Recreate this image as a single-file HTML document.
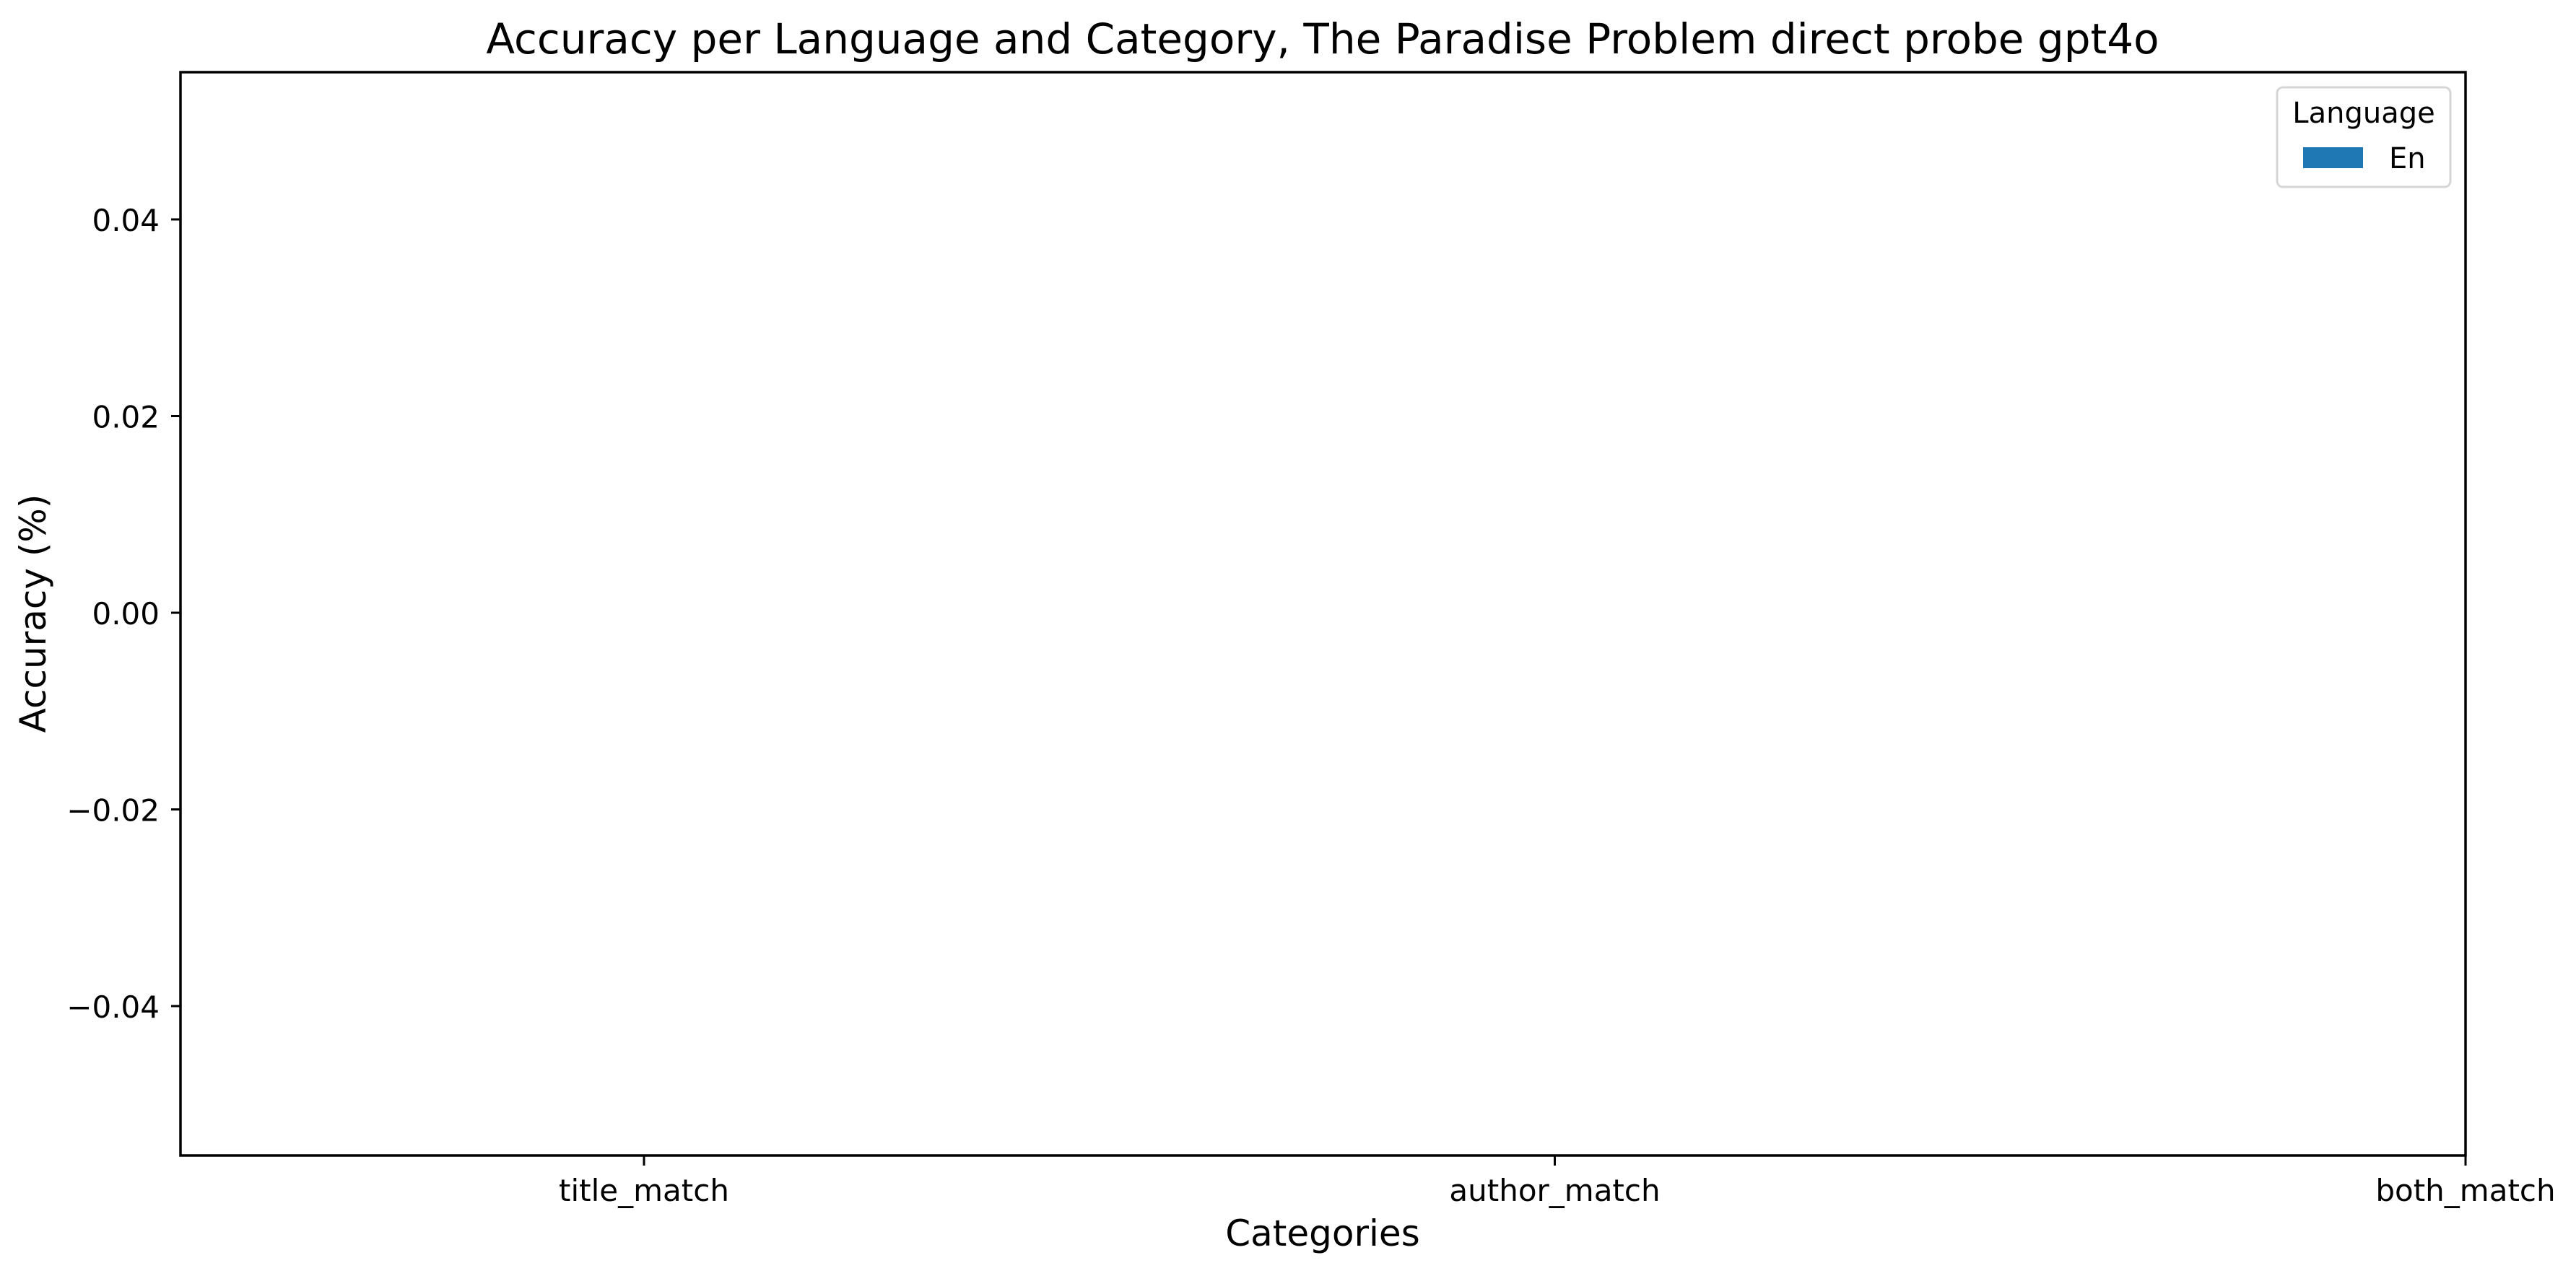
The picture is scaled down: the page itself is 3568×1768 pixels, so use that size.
<!DOCTYPE html>
<html><head><meta charset="utf-8"><style>
html,body{margin:0;padding:0;background:#fff;}
svg{display:block;font-family:"DejaVu Sans","Liberation Sans",sans-serif;}
</style></head><body>
<svg id="chart" width="3568" height="1768" viewBox="0 0 3568 1768">
<rect x="0" y="0" width="3568" height="1768" fill="#fff"/>
<text x="1832" y="74" font-size="58" text-anchor="middle">Accuracy per Language and Category, The Paradise Problem direct probe gpt4o</text>
<g id="marks"></g>
<g id="yticks"></g>
<g id="xticks"></g>
<rect x="250" y="100" width="3165" height="1501" fill="none" stroke="#000" stroke-width="3.5"/>
<text transform="translate(63,850) rotate(-90)" font-size="50" text-anchor="middle">Accuracy (%)</text>
<text x="1832" y="1726" font-size="50" text-anchor="middle">Categories</text>
<g>
<rect x="3154" y="121" width="240" height="138" rx="8" fill="#fff" stroke="#d6d6d6" stroke-width="3"/>
<text x="3274" y="170" font-size="40" text-anchor="middle">Language</text>
<rect x="3190" y="204" width="83" height="29" fill="#1f77b4"/>
<text x="3309" y="233" font-size="40">En</text>
</g>
</svg>
<script>
const categories = ["title_match", "author_match", "both_match"];
const seriesEn = [0, 0, 0];
const yTickValues = [0.04, 0.02, 0.00, -0.02, -0.04];
const yTickLabels = ["0.04", "0.02", "0.00", "\u22120.02", "\u22120.04"];

const NS = "http://www.w3.org/2000/svg";
const yScale = v => 849 - v * 13625;
const xScale = i => 892 + i * 1261.5;
const marks = document.getElementById("marks");
const yt = document.getElementById("yticks");
const xt = document.getElementById("xticks");

seriesEn.forEach((v, i) => {
  const r = document.createElementNS(NS, "rect");
  const y0 = yScale(0), y1 = yScale(v);
  r.setAttribute("x", xScale(i) - 400);
  r.setAttribute("width", 800);
  r.setAttribute("y", Math.min(y0, y1));
  r.setAttribute("height", Math.abs(y1 - y0));
  r.setAttribute("fill", "#1f77b4");
  
  
  marks.appendChild(r);
});

yTickValues.forEach((v, i) => {
  const y = yScale(v);
  const l = document.createElementNS(NS, "line");
  l.setAttribute("x1", 237); l.setAttribute("x2", 250);
  l.setAttribute("y1", y); l.setAttribute("y2", y);
  l.setAttribute("stroke", "#000"); l.setAttribute("stroke-width", "3");
  
  
  yt.appendChild(l);
  const t = document.createElementNS(NS, "text");
  t.setAttribute("x", 221); t.setAttribute("y", y + 16);
  t.setAttribute("font-size", "42"); t.setAttribute("text-anchor", "end");
  t.textContent = yTickLabels[i];
  
  
  yt.appendChild(t);
});

categories.forEach((c, i) => {
  const x = xScale(i);
  const l = document.createElementNS(NS, "line");
  l.setAttribute("x1", x); l.setAttribute("x2", x);
  l.setAttribute("y1", 1601); l.setAttribute("y2", 1615);
  l.setAttribute("stroke", "#000"); l.setAttribute("stroke-width", "3");
  
  
  xt.appendChild(l);
  const t = document.createElementNS(NS, "text");
  t.setAttribute("x", x); t.setAttribute("y", 1664);
  t.setAttribute("font-size", "42"); t.setAttribute("text-anchor", "middle");
  t.textContent = c;
  
  
  xt.appendChild(t);
});
</script>
</body></html>
